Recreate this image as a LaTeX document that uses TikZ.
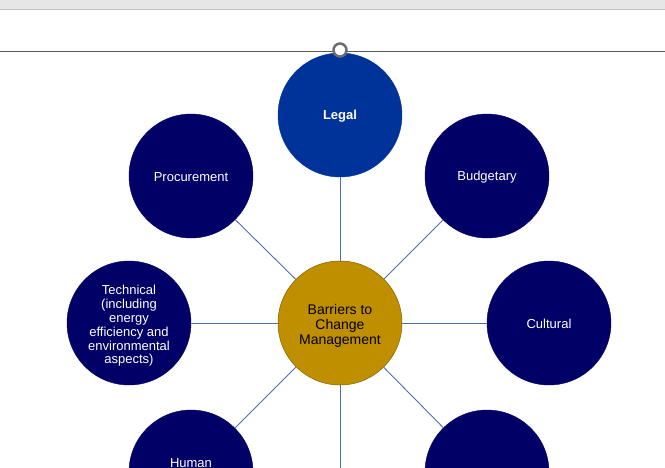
\documentclass[tikz,border=0pt]{standalone}
\usepackage{fontspec}
\setmainfont{Liberation Sans}
\definecolor{navy}{HTML}{000066}
\definecolor{legalblue}{HTML}{003399}
\definecolor{hubgold}{HTML}{BF8F00}
\definecolor{hubedge}{HTML}{7F6000}
\definecolor{spoke}{HTML}{4F6FA8}
\definecolor{barfill}{HTML}{E6E6E6}
\definecolor{barline}{HTML}{C3C3C3}
\definecolor{rule}{HTML}{595959}
\definecolor{handle}{HTML}{6E6E6E}
\begin{document}
\begin{tikzpicture}[x=1pt,y=-1pt,
  outer/.style={circle,minimum size=124pt,inner sep=0pt,fill=navy,draw=navy},
  hub/.style={circle,minimum size=124pt,inner sep=0pt,fill=hubgold,draw=hubedge,
    line width=0.5pt},
  wtext/.style={text=white,align=center,inner sep=0pt,font=\fontsize{13}{13.8}\selectfont},
  btext/.style={text=black,align=center,inner sep=0pt,font=\fontsize{14}{15}\selectfont},
  spokeline/.style={draw=spoke,line width=0.9pt}]
\useasboundingbox (0,0) rectangle (665,467);
% window chrome
\fill[barfill] (0,0) rectangle (665,9);
\draw[barline,line width=1pt] (0,9.5) -- (665,9.5);
\draw[rule,line width=1pt] (0,51) -- (665,51);

% circles with their captions
\node[hub,label={[btext,yshift=-2.5pt]center:{Barriers to\\Change\\Management}}] (hub) at (340,323) {};
\node[outer,fill=legalblue,draw=legalblue,
  label={[wtext,yshift=-1pt,font=\bfseries\fontsize{13}{13.8}\selectfont]center:Legal}] (legal) at (340,115) {};
\node[outer,label={[wtext,yshift=-1pt]center:Procurement}] (proc) at (191,176) {};
\node[outer,label={[wtext,yshift=-1pt]center:Budgetary}] (budg) at (487,176) {};
\node[outer,label={[wtext,yshift=-3pt]center:{Technical\\(including\\energy\\efficiency and\\environmental\\aspects)}}] (tech) at (129,323) {};
\node[outer,label={[wtext,yshift=-1pt]center:Cultural}] (cult) at (549,323) {};
\node[outer] (human) at (191,472) {};
\node[outer] (lowright) at (487,472) {};
\node[wtext] (humanlabel) at (191,463) {Human};
\coordinate (down) at (340,470);

% spokes from the hub
\draw[spokeline] (hub) -- (legal);
\draw[spokeline] (hub) -- (proc);
\draw[spokeline] (hub) -- (budg);
\draw[spokeline] (hub) -- (tech);
\draw[spokeline] (hub) -- (cult);
\draw[spokeline] (hub) -- (human);
\draw[spokeline] (hub) -- (lowright);
\draw[spokeline] (hub) -- (down);

% selection handle
\node[circle,draw=handle,fill=white,line width=2.5pt,minimum size=13pt,inner sep=0pt] (handle) at (340,50) {};
\end{tikzpicture}
\end{document}
